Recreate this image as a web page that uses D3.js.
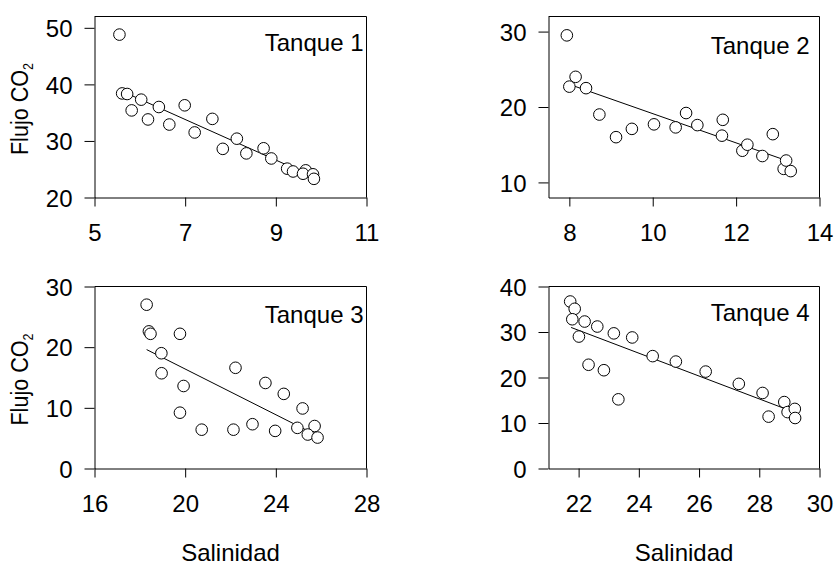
<!DOCTYPE html>
<html>
<head>
<meta charset="utf-8">
<script src="https://cdn.jsdelivr.net/npm/d3@7"></script>
<style>
  html, body { margin: 0; padding: 0; background: #fff; }
  svg { display: block; font-family: "Liberation Sans", Arial, Helvetica, sans-serif; }
</style>
</head>
<body>
<svg id="chart" width="834" height="566"></svg>
<script>
// Salinidad vs. flujo de CO2, un panel por tanque

// Tanque 1
const tanque1Sal   = [5.55, 5.61, 5.72, 6.03, 5.82, 6.42, 6.18, 6.65, 6.99, 7.21, 7.60, 7.83, 8.14, 8.35, 8.73, 8.90, 9.25, 9.38, 9.66, 9.60, 9.82, 9.84];
const tanque1Flujo = [48.8, 38.4, 38.3, 37.3, 35.4, 36.0, 33.8, 32.9, 36.3, 31.5, 33.9, 28.6, 30.4, 27.8, 28.7, 26.9, 25.1, 24.6, 24.8, 24.2, 24.1, 23.3];
const tanque1Ajuste = [[5.55, 39.0], [9.84, 23.6]];

// Tanque 2
const tanque2Sal   = [7.94, 8.00, 8.15, 8.40, 8.72, 9.12, 9.50, 10.03, 10.55, 10.80, 11.07, 11.68, 11.66, 12.15, 12.27, 12.63, 12.88, 13.14, 13.20, 13.31];
const tanque2Flujo = [29.5, 22.7, 24.0, 22.5, 19.0, 16.0, 17.1, 17.7, 17.3, 19.2, 17.6, 18.3, 16.2, 14.2, 15.0, 13.5, 16.4, 11.8, 12.9, 11.5];
const tanque2Ajuste = [[8.0, 23.0], [13.31, 12.7]];

// Tanque 3
const tanque3Sal   = [18.30, 18.40, 18.47, 19.77, 18.95, 18.96, 19.93, 19.77, 20.73, 22.22, 22.13, 22.97, 23.54, 23.97, 24.35, 25.18, 24.95, 25.71, 25.41, 25.84];
const tanque3Flujo = [27.0, 22.6, 22.2, 22.2, 19.0, 15.7, 13.6, 9.2, 6.4, 16.6, 6.4, 7.3, 14.1, 6.2, 12.3, 9.9, 6.7, 7.0, 5.6, 5.1];
const tanque3Ajuste = [[18.30, 19.6], [25.84, 5.4]];

// Tanque 4
const tanque4Sal   = [21.72, 21.87, 21.79, 22.20, 22.01, 22.62, 22.33, 23.17, 22.84, 23.78, 23.32, 24.46, 25.23, 26.22, 27.32, 28.11, 28.31, 28.83, 28.94, 29.18, 29.19];
const tanque4Flujo = [36.7, 35.1, 32.8, 32.3, 29.0, 31.2, 22.8, 29.7, 21.6, 28.8, 15.2, 24.7, 23.5, 21.3, 18.6, 16.6, 11.4, 14.6, 12.4, 13.1, 11.1];
const tanque4Ajuste = [[21.75, 31.0], [29.19, 12.3]];

// Ejes
const xDominios = [[5, 11], [7.5, 14], [16, 28], [21, 30]];
const yDominios = [[20, 52], [8, 32], [0, 30], [0, 40]];
const xMarcas = [[5, 7, 9, 11], [8, 10, 12, 14], [16, 20, 24, 28], [22, 24, 26, 28, 30]];
const yMarcas = [[20, 30, 40, 50], [10, 20, 30], [0, 10, 20, 30], [0, 10, 20, 30, 40]];
const titulos = ["Tanque 1", "Tanque 2", "Tanque 3", "Tanque 4"];
const ejeXTitulo = "Salinidad";
const ejeYTitulo = "Flujo CO";
const ejeYSub = "2";

const series = [
  { sal: tanque1Sal, flujo: tanque1Flujo, ajuste: tanque1Ajuste },
  { sal: tanque2Sal, flujo: tanque2Flujo, ajuste: tanque2Ajuste },
  { sal: tanque3Sal, flujo: tanque3Flujo, ajuste: tanque3Ajuste },
  { sal: tanque4Sal, flujo: tanque4Flujo, ajuste: tanque4Ajuste }
];

// Marcos de los paneles (px)
const marcos = [
  { left: 94.5, right: 366.5, top: 16.5, bottom: 197.5 },
  { left: 548.5, right: 819.5, top: 16.5, bottom: 197.5 },
  { left: 94.5, right: 366.5, top: 286.5, bottom: 468.5 },
  { left: 548.5, right: 819.5, top: 286.5, bottom: 468.5 }
];

const svg = d3.select("#chart");
const FONT = 24;

series.forEach((s, i) => {
  const m = marcos[i];
  const x = d3.scaleLinear().domain(xDominios[i]).range([m.left, m.right]);
  const y = d3.scaleLinear().domain(yDominios[i]).range([m.bottom, m.top]);
  const g = svg.append("g");

  // borde superior y derecho
  g.append("path")
    .attr("d", `M${m.left},${m.top}H${m.right}V${m.bottom}`)
    .attr("fill", "none").attr("stroke", "#000").attr("stroke-width", 1);

  const ax = g.append("g")
    .attr("transform", `translate(0,${m.bottom})`)
    .call(d3.axisBottom(x).tickValues(xMarcas[i]).tickSize(9).tickSizeOuter(0).tickPadding(17).tickFormat(d3.format("d")));
  const ay = g.append("g")
    .attr("transform", `translate(${m.left},0)`)
    .call(d3.axisLeft(y).tickValues(yMarcas[i]).tickSize(10).tickSizeOuter(0).tickPadding(12).tickFormat(d3.format("d")));

  [ax, ay].forEach(a => {
    a.attr("font-family", null).attr("font-size", null);
    a.selectAll("path.domain").attr("stroke", "#000");
    a.selectAll(".tick line").attr("stroke", "#000");
    a.selectAll(".tick text").attr("fill", "#000").style("font-size", FONT + "px");
  });
  ay.selectAll(".tick text").attr("dy", "0.36em");

  // recta de ajuste
  g.append("line")
    .attr("x1", x(s.ajuste[0][0])).attr("y1", y(s.ajuste[0][1]))
    .attr("x2", x(s.ajuste[1][0])).attr("y2", y(s.ajuste[1][1]))
    .attr("stroke", "#000").attr("stroke-width", 1);

  // puntos
  g.selectAll("circle")
    .data(d3.zip(s.sal, s.flujo))
    .join("circle")
    .attr("cx", d => x(d[0]))
    .attr("cy", d => y(d[1]))
    .attr("r", 5.8)
    .attr("fill", "#fff")
    .attr("stroke", "#000")
    .attr("stroke-width", 1);

  // titulo del panel
  g.append("text")
    .attr("x", m.right - (i % 2 === 0 ? 3 : 10))
    .attr("y", i < 2 ? (i === 0 ? 51 : 54) : (i === 2 ? 323 : 321))
    .attr("text-anchor", "end")
    .style("font-size", FONT + "px")
    .text(titulos[i]);
});

// titulos de eje Y (columna izquierda)
[0, 2].forEach(i => {
  const m = marcos[i];
  const cy = (m.top + m.bottom) / 2 + 2;
  const t = svg.append("text")
    .attr("transform", `translate(28,${cy}) rotate(-90) scale(0.9,1)`)
    .attr("text-anchor", "middle")
    .style("font-size", FONT + "px");
  t.append("tspan").text(ejeYTitulo);
  t.append("tspan").attr("dy", 5).style("font-size", "14px").text(ejeYSub);
});

// titulos de eje X (fila inferior)
[2, 3].forEach(i => {
  const m = marcos[i];
  svg.append("text")
    .attr("x", (m.left + m.right) / 2)
    .attr("y", 561)
    .attr("text-anchor", "middle")
    .style("font-size", FONT + "px")
    .text(ejeXTitulo);
});
</script>
</body>
</html>
